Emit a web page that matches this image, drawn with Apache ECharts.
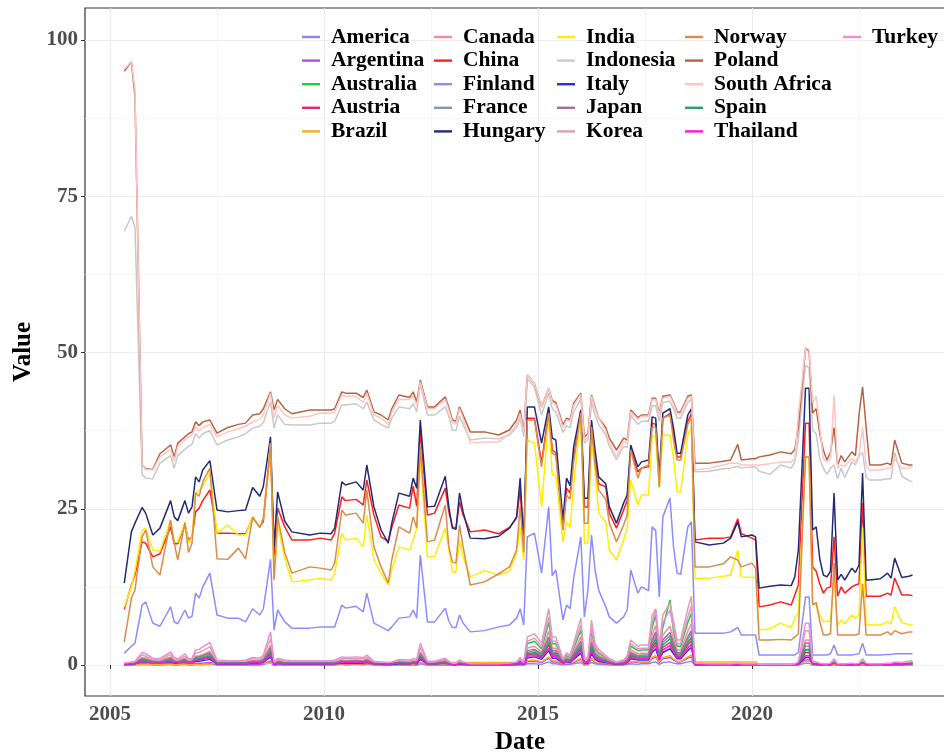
<!DOCTYPE html>
<html>
<head>
<meta charset="utf-8">
<script src="https://cdn.jsdelivr.net/npm/echarts@6/dist/echarts.min.js"></script>
<style>
html, body { margin: 0; padding: 0; background: #ffffff; }
#chart { width: 944px; height: 753px; }
</style>
</head>
<body>
<div id="chart"></div>
<script>
// monthly observation dates (YYYY-MM)
const dates = [
  '2005-05','2005-07','2005-08','2005-10','2005-11','2006-01','2006-03','2006-06','2006-07','2006-08',
  '2006-10','2006-11','2006-12','2007-01','2007-02','2007-03','2007-05','2007-07','2007-10','2008-01',
  '2008-03','2008-05','2008-07','2008-08','2008-10','2008-11','2008-12','2009-02','2009-04','2009-09',
  '2009-12','2010-03','2010-04','2010-06','2010-07','2010-10','2010-12','2011-01','2011-03','2011-05',
  '2011-07','2011-08','2011-10','2012-01','2012-02','2012-03','2012-04','2012-06','2012-08','2012-11',
  '2012-12','2013-01','2013-02','2013-03','2013-04','2013-06','2013-10','2014-02','2014-05','2014-07',
  '2014-08','2014-09','2014-10','2014-12','2015-02','2015-04','2015-05','2015-06','2015-08','2015-09',
  '2015-10','2015-11','2016-01','2016-02','2016-03','2016-04','2016-05','2016-06','2016-08','2016-09',
  '2016-11','2017-01','2017-02','2017-03','2017-05','2017-06','2017-08','2017-09','2017-10','2017-11',
  '2017-12','2018-02','2018-03','2018-04','2018-05','2018-07','2018-08','2018-09','2019-01','2019-05',
  '2019-07','2019-09','2019-10','2020-01','2020-02','2020-03','2020-06','2020-09','2020-12','2021-01',
  '2021-02','2021-04','2021-05','2021-06','2021-07','2021-08','2021-09','2021-10','2021-11','2021-12',
  '2022-01','2022-02','2022-03','2022-05','2022-06','2022-07','2022-08','2022-09','2022-10','2023-01',
  '2023-03','2023-04','2023-05','2023-07','2023-09','2023-10'
]

const america = [
  0,0,0,0.1,0.1,0,0,0.1,0,0, 0.1,0,0,0.1,0.1,0.1,0.2,0,0,0, 0,0,0,0.1,0.3,0,0,0,0,0,
  0,0,0,0.1,0,0.1,0,0.1,0,0, 0,0,0,0,0,0,0.2,0,0,0, 0,0,0,0,0,0,0,0,0,0,
  0,0,0.2,0.2,0.1,0.5,0.2,0.2,0,0.1, 0.1,0.2,0.4,0,0.1,0.4,0.2,0.1,0.1,0, 0,0,0.1,0.2,0.1,0.2,0.2,0.4,0.5,0.1,
  0.4,0.5,0.3,0.2,0.2,0.5,0.6,0,0,0, 0,0,0,0,0,0,0,0,0,0, 0,0.3,0.3,0,0,0,0,0,0,0,
  0,0,0,0,0,0,0,0,0,0, 0,0,0,0,0,0
]
const argentina = [
  0,0.1,0.1,0.2,0.2,0.1,0.1,0.3,0.1,0.1, 0.2,0.1,0.1,0.3,0.3,0.3,0.4,0.1,0.1,0.1,
  0.1,0.1,0.1,0.2,0.6,0,0.1,0.1,0.1,0.1, 0.1,0.1,0.1,0.2,0.1,0.2,0.1,0.2,0.1,0.1,
  0,0.1,0.1,0.1,0.1,0.1,0.4,0.1,0.1,0.1, 0.1,0,0,0.1,0.1,0,0,0,0,0.1,
  0.1,0,0.5,0.6,0.4,1.1,0.5,0.5,0.1,0.2, 0.2,0.4,0.9,0.1,0.1,0.9,0.4,0.3,0.2,0.1,
  0.1,0.1,0.2,0.5,0.4,0.4,0.4,1.0,1.3,0.4, 1.0,1.2,0.8,0.5,0.5,1.1,1.3,0,0,0,
  0,0,0,0,0,0,0,0,0,0, 0.1,0.8,0.8,0.1,0.1,0,0,0,0,0.1,
  0,0,0,0,0,0,0.1,0,0,0, 0,0,0.1,0,0.1,0.1
]
const australia = [
  0.2,0.3,0.3,1.1,1.0,0.6,0.6,1.2,0.7,0.6, 1.0,0.6,0.6,1.3,1.4,1.6,2.0,0.4,0.4,0.4,
  0.4,0.7,0.6,0.9,2.9,0.2,0.6,0.4,0.4,0.4, 0.4,0.4,0.4,0.7,0.7,0.7,0.7,0.9,0.3,0.3,
  0.2,0.3,0.5,0.4,0.6,0.5,1.9,0.3,0.3,0.6, 0.3,0.2,0.2,0.4,0.3,0.1,0.1,0.1,0.2,0.3,
  0.7,0.2,3.4,3.8,2.6,6.8,3.4,3.4,0.8,1.5, 1.2,2.6,5.6,0.8,0.9,5.4,2.6,1.9,1.1,0.8,
  0.4,0.6,1.1,3.0,2.3,2.4,2.4,6.0,8.0,2.3, 6.0,10.4,5.3,3.0,3.0,6.8,8.3,0.1,0.1,0.1,
  0.1,0.1,0.1,0.1,0.1,0.1,0.1,0.1,0.1,0.1, 0.2,2.4,2.4,0.2,0.2,0.1,0.1,0.1,0.1,0.3,
  0.1,0.1,0.1,0.1,0.1,0.1,0.3,0.1,0.1,0.1, 0.1,0.1,0.2,0.1,0.2,0.2
]
const austria = [
  0.1,0.2,0.2,0.7,0.6,0.4,0.4,0.7,0.4,0.4, 0.6,0.4,0.4,0.8,0.9,1.0,1.3,0.3,0.2,0.2,
  0.3,0.4,0.4,0.6,1.9,0.1,0.4,0.3,0.2,0.2, 0.2,0.2,0.3,0.5,0.4,0.5,0.4,0.6,0.2,0.2,
  0.1,0.2,0.3,0.3,0.4,0.3,1.2,0.2,0.2,0.4, 0.2,0.1,0.1,0.3,0.2,0.1,0.1,0.1,0.1,0.2,
  0.4,0.1,1.6,1.8,1.2,3.2,1.6,1.6,0.4,0.7, 0.6,1.2,2.6,0.4,0.4,2.5,1.2,0.9,0.5,0.4,
  0.2,0.3,0.5,1.4,1.1,1.1,1.1,2.8,3.7,1.1, 2.8,3.6,2.5,1.4,1.4,3.2,3.9,0.1,0.1,0.1,
  0.1,0.1,0.1,0.1,0.1,0,0,0,0,0.1, 0.2,2.0,2.0,0.2,0.2,0.1,0.1,0.1,0.1,0.4,
  0.1,0.1,0.1,0.1,0.1,0.1,0.4,0.1,0.1,0.1, 0.1,0.1,0.2,0.1,0.2,0.2
]
const brazil = [
  0.1,0.1,0.1,0.1,0.1,0.1,0.1,0.1,0.1,0.1, 0.1,0.1,0.1,0.1,0.1,0.1,0.1,0.3,0.3,0.3,
  0.3,0.3,0.3,0.3,0.3,0.3,0.3,0.3,0.3,0.3, 0.3,0.2,0.2,0.2,0.2,0.2,0.2,0.2,0.2,0.2,
  0.2,0.2,0.2,0.2,0.2,0.2,0.4,0.2,0.2,0.2, 0.2,0.4,0.4,0.4,0.4,0.4,0.4,0.4,0.4,0.4,
  0.4,0.4,0.7,0.8,0.5,1.3,0.7,0.7,0.2,0.3, 0.3,0.5,1.1,0.2,0.2,1.1,0.5,0.4,0.3,0.2,
  0.2,0.2,0.3,0.6,0.5,0.5,0.5,1.2,1.5,0.5, 1.2,1.5,1.0,0.6,0.6,1.3,1.6,0.5,0.5,0.5,
  0.5,0.5,0.5,0.5,0.5,0.1,0.1,0.1,0.1,0.1, 0.1,0.6,0.6,0.1,0.1,0.1,0.1,0.1,0.1,0.1,
  0.1,0.1,0.1,0.1,0.1,0.1,0.1,0.1,0.1,0.1, 0.1,0.1,0.1,0.1,0.1,0.1
]
const canada = [
  0.2,0.3,0.4,1.2,1.1,0.7,0.6,1.3,0.7,0.6, 1.1,0.6,0.7,1.4,1.5,1.7,2.2,0.5,0.4,0.4,
  0.5,0.7,0.7,1.0,3.2,0.2,0.7,0.5,0.4,0.4, 0.4,0.4,0.5,0.8,0.7,0.8,0.7,1.0,0.4,0.3,
  0.2,0.3,0.5,0.5,0.6,0.5,2.1,0.4,0.4,0.7, 0.4,0.2,0.2,0.5,0.3,0.1,0.1,0.1,0.2,0.3,
  0.7,0.2,2.7,3.0,2.1,5.4,2.7,2.7,0.6,1.2, 1.0,2.1,4.5,0.6,0.7,4.3,2.1,1.5,0.9,0.6,
  0.3,0.5,0.9,2.4,1.8,1.9,1.9,4.8,6.3,1.8, 4.8,6.2,4.2,2.4,2.4,5.4,6.6,0.2,0.1,0.1,
  0.1,0.2,0.1,0.1,0.1,0.1,0.1,0.1,0.1,0.1, 0.3,4.0,4.0,0.4,0.3,0.2,0.1,0.1,0.2,0.6,
  0.1,0.1,0.1,0.2,0.1,0.2,0.6,0.2,0.1,0.1, 0.2,0.2,0.3,0.2,0.4,0.4
]
const china = [
  8.9,12.8,14.4,19.7,19.5,17.3,17.8,22.1,19.4,19.4, 22.4,20.0,20.5,24.5,25.1,26.3,28.0,21.1,21.1,21.0,
  21.0,23.5,22.1,23.0,34.9,17.5,25.1,22.1,20.0,20.0, 20.3,20.0,21.1,26.9,26.3,26.5,25.6,29.6,24.0,20.5,
  19.8,22.0,25.6,25.1,28.6,25.4,37.6,24.0,24.3,28.3, 24.5,22.1,21.9,26.1,24.0,21.3,21.6,21.0,22.0,23.5,
  28.0,19.5,39.5,39.5,32.3,40.7,34.4,34.0,21.6,28.3, 27.5,33.3,40.3,25.3,25.3,38.4,33.0,29.0,28.5,24.3,
  21.9,24.8,26.3,34.6,30.9,31.5,31.7,38.7,38.5,29.0, 39.5,40.2,37.0,33.3,33.3,39.0,40.2,20.0,20.3,20.3,
  20.5,23.4,21.0,20.3,20.0,9.3,9.6,10.1,9.6,11.2, 12.8,38.7,38.7,15.7,15.0,13.0,11.5,12.3,12.5,20.5,
  11.0,12.5,11.5,12.5,12.8,13.0,25.9,11.0,11.0,11.0, 11.5,11.2,13.9,11.2,11.2,11.1
]
const finland = [
  1.9,3.0,3.5,9.6,10.1,6.7,6.2,9.3,6.9,6.6, 8.8,7.5,7.8,11.5,10.7,12.5,14.7,8.0,7.5,7.5,
  6.9,9.0,8.0,9.0,16.9,5.6,8.8,6.9,5.9,5.9, 6.1,6.1,6.1,9.6,9.1,9.4,8.5,11.5,6.7,6.1,
  5.5,6.1,7.5,7.7,8.8,7.5,17.6,6.9,6.9,9.1, 7.0,6.0,6.0,8.0,6.7,5.3,5.5,6.1,6.4,7.5,
  9.0,6.4,20.5,21.1,14.7,25.3,14.3,15.2,7.2,9.6, 9.0,13.9,20.5,7.7,12.0,20.8,15.2,12.0,9.3,7.7,
  6.7,7.7,8.8,15.2,11.5,12.5,11.9,22.1,21.5,10.9, 23.7,26.7,18.9,14.7,14.5,22.1,22.9,5.1,5.1,5.1,
  5.3,6.0,4.8,4.8,4.8,1.6,1.6,1.6,1.6,1.6, 2.0,10.9,10.9,1.6,1.6,1.6,1.6,1.6,1.8,3.2,
  1.6,1.6,1.6,1.6,1.7,1.8,3.5,1.6,1.6,1.6, 1.7,1.7,1.8,1.8,1.8,1.8
]
const france = [
  0.1,0.2,0.3,0.9,0.8,0.5,0.5,0.9,0.5,0.5, 0.8,0.5,0.5,1.1,1.1,1.3,1.6,0.4,0.3,0.3,
  0.4,0.5,0.5,0.7,2.4,0.2,0.5,0.4,0.3,0.3, 0.3,0.3,0.4,0.6,0.5,0.6,0.5,0.7,0.3,0.2,
  0.2,0.2,0.4,0.4,0.5,0.4,1.6,0.3,0.3,0.5, 0.3,0.1,0.1,0.4,0.2,0.1,0.1,0.1,0.1,0.2,
  0.5,0.2,2.0,2.3,1.6,4.1,2.0,2.0,0.5,0.9, 0.7,1.6,3.4,0.5,0.5,3.2,1.6,1.1,0.7,0.5,
  0.2,0.4,0.7,1.8,1.4,1.4,1.4,3.6,4.7,1.4, 3.6,4.7,3.2,1.8,1.8,4.1,5.0,0.1,0.1,0.1,
  0.1,0.1,0.1,0.1,0.1,0,0,0,0,0.1, 0.2,3.0,3.0,0.3,0.2,0.1,0.1,0.1,0.1,0.5,
  0.1,0.1,0.1,0.1,0.1,0.1,0.5,0.1,0.1,0.1, 0.1,0.1,0.2,0.2,0.3,0.3
]
const hungary = [
  13.1,21.3,22.7,25.2,24.3,20.8,21.9,26.3,23.7,23.1, 26.3,24.3,25.3,30.1,29.3,31.2,32.7,24.8,24.5,24.7,
  24.8,28.4,27.0,28.6,36.5,18.9,27.7,23.0,21.3,20.8, 21.1,21.0,21.9,29.3,28.8,29.3,28.0,32.0,25.3,21.6,
  19.5,22.7,27.5,27.0,29.9,28.3,39.2,25.3,25.4,30.2, 25.3,21.9,21.7,27.5,24.5,20.3,20.2,20.6,21.9,23.7,
  29.9,19.5,41.3,41.3,35.5,41.3,36.3,36.0,23.2,29.9, 28.7,34.9,40.8,26.7,26.7,39.2,34.4,30.1,29.0,25.3,
  22.7,25.9,27.2,35.2,31.7,32.5,32.8,39.7,39.5,30.1, 40.3,41.0,37.9,33.9,33.9,40.0,41.0,19.7,19.2,19.5,
  20.3,22.9,20.5,20.8,20.5,12.3,12.6,12.8,12.7,14.1, 18.4,44.3,44.3,21.6,22.1,17.0,14.4,14.1,15.0,27.5,
  13.6,14.5,13.6,15.5,14.8,16.0,30.7,13.6,13.6,13.8, 14.7,13.9,17.1,14.0,14.2,14.4
]
const india = [
  9.3,12.5,15.0,21.6,21.9,18.4,18.2,23.2,19.7,19.7, 22.8,19.5,20.5,27.5,28.0,28.6,30.7,21.1,22.4,20.8,
  20.8,23.7,22.0,23.5,35.5,13.6,22.5,17.0,13.3,13.6, 13.9,13.6,14.7,21.1,20.0,20.3,18.9,24.0,16.8,14.7,
  12.8,15.2,18.9,18.4,20.0,21.9,33.3,17.3,17.4,21.9, 18.5,14.9,14.9,20.0,17.3,14.1,15.1,14.4,15.0,17.9,
  22.1,16.8,36.0,35.5,25.3,39.7,30.4,30.4,19.7,22.9, 22.0,28.8,39.7,19.5,19.5,36.0,31.2,24.3,22.9,18.4,
  16.8,20.0,21.9,29.6,25.6,27.2,27.2,36.8,36.5,28.3, 36.8,36.8,33.0,27.7,27.7,36.8,38.1,13.9,13.9,14.2,
  14.4,18.4,14.1,14.0,14.0,5.6,5.8,6.7,6.0,7.5, 8.3,33.3,33.3,9.9,9.5,8.0,6.9,7.0,7.0,14.1,
  6.4,7.2,6.6,8.0,7.5,8.0,22.0,6.4,6.4,6.4, 6.9,6.6,9.3,6.8,6.5,6.4
]
const indonesia = [
  69.4,71.8,70.0,30.5,29.9,29.8,32.3,33.5,31.5,33.5, 34.5,35.0,35.3,37.0,36.3,37.0,37.5,35.2,36.0,36.5,
  37.0,37.9,38.2,38.8,42.1,37.9,40.0,38.5,38.4,38.4, 38.7,38.7,39.0,41.6,41.6,41.8,41.0,42.1,39.2,38.5,
  37.9,39.5,41.3,41.0,41.8,40.5,45.0,40.0,40.0,41.3, 39.8,37.6,37.5,39.8,38.5,36.0,36.3,36.2,36.8,38.0,
  39.5,36.5,45.8,44.5,40.0,43.5,41.0,40.5,37.2,38.3, 38.0,40.5,42.5,35.5,36.0,42.0,40.0,38.5,36.8,35.0,
  32.8,35.0,34.8,40.0,38.5,39.0,39.0,41.5,41.5,39.0, 42.0,42.2,41.0,39.5,39.5,42.0,42.5,30.9,31.0,31.4,
  31.5,31.8,31.5,31.7,31.7,31.0,30.5,32.0,31.5,32.5, 36.0,48.0,47.5,37.6,37.0,33.0,31.5,30.5,31.5,32.0,
  29.8,31.5,30.0,32.5,32.0,33.5,34.0,30.0,29.6,29.6, 29.8,29.8,34.0,30.2,29.5,29.3
]
const italy = [
  0.1,0.1,0.2,0.5,0.5,0.3,0.3,0.5,0.3,0.3, 0.5,0.3,0.3,0.6,0.6,0.7,0.9,0.2,0.2,0.2,
  0.2,0.3,0.3,0.4,1.3,0.1,0.3,0.2,0.2,0.2, 0.2,0.2,0.2,0.3,0.3,0.3,0.3,0.4,0.2,0.1,
  0.1,0.1,0.2,0.2,0.3,0.2,0.9,0.2,0.2,0.3, 0.2,0.1,0.1,0.2,0.1,0.1,0.1,0.1,0.1,0.1,
  0.3,0.1,1.1,1.3,0.9,2.3,1.1,1.1,0.3,0.5, 0.4,0.9,1.9,0.3,0.3,1.8,0.9,0.6,0.4,0.3,
  0.1,0.2,0.4,1.0,0.8,0.8,0.8,2.0,2.6,0.8, 2.0,2.6,1.8,1.0,1.0,2.3,2.8,0.1,0.1,0.1,
  0.1,0.1,0.1,0.1,0.1,0,0,0,0,0.1, 0.1,1.2,1.2,0.2,0.1,0.1,0.1,0.1,0.1,0.3,
  0.1,0.1,0.1,0.1,0.1,0.1,0.3,0.1,0.1,0.1, 0.1,0.1,0.1,0.1,0.2,0.2
]
const japan = [
  0.2,0.3,0.3,1.0,0.9,0.6,0.5,1.1,0.6,0.5, 0.9,0.5,0.6,1.2,1.3,1.5,1.8,0.4,0.4,0.4,
  0.4,0.6,0.6,0.8,2.7,0.2,0.6,0.4,0.4,0.4, 0.4,0.4,0.4,0.7,0.6,0.7,0.6,0.8,0.3,0.3,
  0.2,0.3,0.5,0.4,0.5,0.5,1.8,0.3,0.3,0.6, 0.3,0.2,0.2,0.4,0.3,0.1,0.1,0.1,0.2,0.3,
  0.6,0.2,2.3,2.5,1.8,4.5,2.3,2.3,0.5,1.0, 0.8,1.8,3.8,0.5,0.6,3.6,1.8,1.3,0.8,0.5,
  0.3,0.4,0.8,2.0,1.5,1.6,1.6,4.0,5.3,1.5, 4.0,5.2,3.5,2.0,2.0,4.5,5.5,0.2,0.1,0.1,
  0.1,0.2,0.1,0.1,0.1,0.1,0.1,0.1,0.1,0.1, 0.3,3.5,3.5,0.3,0.3,0.2,0.1,0.1,0.2,0.5,
  0.1,0.1,0.1,0.2,0.1,0.2,0.5,0.2,0.1,0.1, 0.2,0.2,0.3,0.2,0.3,0.4
]
const korea = [
  0.2,0.4,0.5,1.6,1.4,0.9,0.8,1.7,1.0,0.8, 1.4,0.8,0.9,1.9,2.0,2.3,2.9,0.6,0.6,0.6,
  0.6,1.0,0.9,1.3,4.2,0.3,0.9,0.6,0.6,0.6, 0.6,0.6,0.6,1.0,1.0,1.0,1.0,1.3,0.5,0.4,
  0.3,0.4,0.7,0.6,0.8,0.7,2.8,0.5,0.5,0.9, 0.5,0.2,0.2,0.6,0.4,0.2,0.2,0.2,0.2,0.4,
  1.0,0.3,4.5,5.0,3.5,9.0,4.5,4.5,1.0,2.0, 1.6,3.5,7.5,1.0,1.2,7.2,3.5,2.5,1.5,1.0,
  0.5,0.8,1.5,4.0,3.0,3.2,3.2,8.0,9.0,3.0, 8.0,9.9,7.0,4.0,4.0,9.0,11.0,0.2,0.1,0.1,
  0.1,0.2,0.1,0.1,0.1,0.1,0.1,0.1,0.1,0.1, 0.4,5.5,5.5,0.4,0.4,0.2,0.1,0.1,0.2,0.7,
  0.1,0.1,0.1,0.2,0.1,0.2,0.7,0.2,0.1,0.1, 0.2,0.2,0.4,0.3,0.4,0.5
]
const norway = [
  3.7,10.7,12.0,20.5,21.6,15.7,14.4,23.2,19.5,16.8, 22.8,18.0,19.5,27.5,27.0,29.3,31.5,17.0,16.9,18.7,
  17.0,23.7,22.0,23.5,35.5,13.6,23.7,18.0,14.7,15.7, 15.5,15.2,16.3,24.8,24.0,24.3,22.7,28.0,18.9,15.7,
  13.1,16.8,22.1,21.1,23.7,21.9,34.9,19.7,20.0,25.6, 18.9,16.5,16.3,22.4,18.9,12.8,13.3,14.6,15.7,18.4,
  25.3,18.0,39.2,39.2,31.7,40.3,33.9,33.5,21.6,27.2, 26.5,32.5,40.3,22.7,22.7,38.1,32.0,28.0,26.5,22.7,
  19.7,22.4,24.0,34.4,29.9,31.5,32.0,38.1,38.0,28.5, 39.5,40.0,36.0,32.8,32.8,38.5,39.8,15.7,15.7,16.2,
  17.3,16.8,15.7,16.3,15.5,4.0,4.0,4.1,4.0,4.5, 5.0,33.3,33.3,9.6,10.0,7.0,4.8,4.8,5.0,16.3,
  4.8,4.8,4.8,4.8,4.8,5.0,13.0,4.8,4.8,4.8, 5.3,4.8,5.5,5.0,5.3,5.3
]
const poland = [
  95.0,96.5,91.0,32.0,31.4,31.3,33.8,35.2,33.3,35.5, 36.5,37.0,37.3,38.9,38.3,38.9,39.2,37.1,38.0,38.5,
  38.7,40.0,40.2,41.0,43.7,40.8,42.5,41.0,40.2,40.8, 40.8,40.8,41.0,43.7,43.5,43.5,42.8,44.0,40.5,40.0,
  39.2,41.0,43.2,42.8,43.7,42.1,45.6,41.3,41.3,42.9, 41.2,39.2,39.0,41.3,40.0,37.3,37.3,36.8,37.6,39.2,
  40.8,37.3,46.4,45.0,41.3,44.3,42.3,42.0,38.4,39.5, 39.2,41.9,43.5,36.5,37.0,43.2,41.3,39.5,38.0,36.3,
  34.4,36.3,36.0,40.8,39.6,40.0,40.0,42.7,42.7,40.3, 43.0,43.2,42.0,40.5,40.5,43.0,43.2,32.3,32.3,32.6,
  32.8,35.3,32.8,33.0,33.0,33.3,33.6,34.1,33.8,34.5, 38.1,50.7,50.2,40.3,41.0,37.0,34.4,32.8,34.0,38.0,
  32.0,33.5,32.5,34.1,33.5,40.0,44.5,38.0,32.0,32.0, 32.3,32.0,36.0,32.3,32.0,32.0
]
const southAfrica = [
  95.3,96.6,92.0,32.0,31.3,31.2,33.3,34.5,32.6,35.0, 36.0,36.5,36.8,38.1,37.5,38.0,38.5,36.5,37.3,37.8,
  38.2,38.9,39.3,40.0,43.5,39.5,41.5,40.0,39.5,39.8, 40.3,40.3,40.5,43.2,43.0,43.0,42.0,43.5,40.0,39.5,
  38.5,40.5,42.5,42.5,43.0,41.5,45.3,41.0,41.0,42.5, 40.8,38.8,38.6,41.0,39.5,35.5,35.7,35.7,37.0,38.5,
  40.2,37.0,46.4,45.0,41.3,44.3,42.0,41.7,38.0,39.2, 39.0,41.5,43.3,36.0,36.5,43.0,41.0,39.5,37.5,35.5,
  33.3,35.8,35.5,40.5,39.3,39.8,39.8,42.5,42.5,40.0, 42.7,43.0,41.8,40.2,40.2,42.7,43.0,31.2,31.5,32.0,
  32.3,32.3,32.0,32.0,32.0,32.0,32.2,32.5,32.5,33.0, 40.0,50.7,50.5,42.0,43.0,38.0,33.0,32.5,33.0,43.2,
  31.5,32.0,31.8,33.0,32.5,33.5,38.0,32.0,31.2,31.2, 31.5,31.5,33.0,31.5,31.5,31.8
]
const spain = [
  0.1,0.2,0.2,0.8,0.7,0.4,0.4,0.8,0.5,0.4, 0.7,0.4,0.4,1.0,1.0,1.2,1.4,0.3,0.3,0.3,
  0.3,0.5,0.4,0.6,2.1,0.2,0.4,0.3,0.3,0.3, 0.3,0.3,0.3,0.5,0.5,0.5,0.5,0.6,0.2,0.2,
  0.2,0.2,0.4,0.3,0.4,0.4,1.4,0.2,0.2,0.4, 0.2,0.1,0.1,0.3,0.2,0.1,0.1,0.1,0.1,0.2,
  0.5,0.2,1.8,2.0,1.4,3.6,1.8,1.8,0.4,0.8, 0.6,1.4,3.0,0.4,0.5,2.9,1.4,1.0,0.6,0.4,
  0.2,0.3,0.6,1.6,1.2,1.3,1.3,3.2,4.2,1.2, 3.2,4.2,2.8,1.6,1.6,3.6,4.4,0.1,0.1,0.1,
  0.1,0.1,0.1,0.1,0.1,0,0,0,0,0.1, 0.2,2.5,2.5,0.2,0.2,0.1,0.1,0.1,0.1,0.4,
  0.1,0.1,0.1,0.1,0.1,0.1,0.4,0.1,0.1,0.1, 0.1,0.1,0.2,0.2,0.2,0.3
]
const thailand = [
  0.1,0.2,0.2,0.6,0.5,0.3,0.3,0.6,0.4,0.3, 0.5,0.3,0.3,0.7,0.8,0.9,1.1,0.2,0.2,0.2,
  0.2,0.4,0.3,0.5,1.6,0.1,0.3,0.2,0.2,0.2, 0.2,0.2,0.2,0.4,0.4,0.4,0.4,0.5,0.2,0.2,
  0.1,0.2,0.3,0.2,0.3,0.3,1.1,0.2,0.2,0.3, 0.2,0.1,0.1,0.2,0.2,0.1,0.1,0.1,0.1,0.2,
  0.4,0.1,1.4,1.5,1.1,2.7,1.4,1.4,0.3,0.6, 0.5,1.1,2.3,0.3,0.4,2.2,1.1,0.8,0.5,0.3,
  0.2,0.2,0.5,1.2,0.9,1.0,1.0,2.4,3.2,0.9, 2.4,3.1,2.1,1.2,1.2,2.7,3.3,0.1,0.1,0.1,
  0.1,0.1,0.1,0.1,0.1,0,0,0,0,0.1, 0.2,1.5,1.5,0.2,0.2,0.1,0.1,0.1,0.1,0.3,
  0.1,0.1,0.1,0.1,0.1,0.1,0.3,0.1,0.1,0.1, 0.1,0.1,0.2,0.1,0.2,0.2
]
const turkey = [
  0.3,0.5,0.6,2.0,1.8,1.1,1.0,2.1,1.2,1.0, 1.8,1.0,1.1,2.4,2.5,2.9,3.6,0.8,0.7,0.7,
  0.8,1.2,1.1,1.6,5.3,0.4,1.1,0.8,0.7,0.7, 0.7,0.7,0.8,1.3,1.2,1.3,1.2,1.6,0.6,0.5,
  0.4,0.5,0.9,0.8,1.0,0.9,3.5,0.6,0.6,1.1, 0.6,0.3,0.3,0.8,0.5,0.2,0.2,0.2,0.3,0.5,
  1.2,0.4,3.8,4.3,3.0,7.7,3.8,3.8,0.9,1.7, 1.4,3.0,6.4,0.9,1.0,6.1,3.0,2.1,1.3,0.9,
  0.4,0.7,1.3,3.4,2.6,2.7,2.7,6.8,8.9,2.6, 6.8,8.8,6.0,3.4,3.4,7.7,9.4,0.3,0.2,0.2,
  0.2,0.3,0.2,0.2,0.2,0.1,0.1,0.1,0.1,0.2, 0.5,6.7,6.7,0.6,0.5,0.3,0.2,0.2,0.3,1.0,
  0.2,0.2,0.2,0.3,0.2,0.3,1.0,0.3,0.2,0.2, 0.3,0.3,0.5,0.4,0.6,0.7
]

// tick labels
const xTicks = [2005, 2010, 2015, 2020]
const xMinorTicks = [2007.5, 2012.5, 2017.5, 2022.5]
const yTicks = [0, 25, 50, 75, 100]
const yMinorTicks = [12.5, 37.5, 62.5, 87.5]

const countries = [
  ['America', america, '#8e86ec'],
  ['Argentina', argentina, '#b54ce6'],
  ['Australia', australia, '#1fcc3a'],
  ['Austria', austria, '#e3267a'],
  ['Brazil', brazil, '#ffab1a'],
  ['Canada', canada, '#f28b9a'],
  ['China', china, '#ff1f1f'],
  ['Finland', finland, '#8c8cff'],
  ['France', france, '#8797ab'],
  ['Hungary', hungary, '#232a7a'],
  ['India', india, '#ffee00'],
  ['Indonesia', indonesia, '#c8c8c8'],
  ['Italy', italy, '#2a2ee6'],
  ['Japan', japan, '#a0709c'],
  ['Korea', korea, '#d9a3ac'],
  ['Norway', norway, '#d98c4c'],
  ['Poland', poland, '#b5643f'],
  ['South Africa', southAfrica, '#ffc4c4'],
  ['Spain', spain, '#2e9e62'],
  ['Thailand', thailand, '#ff14d8'],
  ['Turkey', turkey, '#eb8edb']
]

const legendColumns = [
  ['America', 'Argentina', 'Australia', 'Austria', 'Brazil'],
  ['Canada', 'China', 'Finland', 'France', 'Hungary'],
  ['India', 'Indonesia', 'Italy', 'Japan', 'Korea'],
  ['Norway', 'Poland', 'South Africa', 'Spain', 'Thailand'],
  ['Turkey']
]
const legendLefts = [302, 434, 557, 685, 843]

function toYear(d){
    const parts = d.split('-')
    return Number(parts[0]) + (Number(parts[1]) - 1) / 12
}

const FONT = "'Liberation Serif', 'DejaVu Serif', serif"
const gridLeft = 85, gridTop = 8, gridWidth = 870, gridHeight = 688
const pxPerYear = 42.8, pxPerUnit = 6.25
const xMin = 2005 - (110 - gridLeft) / pxPerYear
const xMax = xMin + gridWidth / pxPerYear
const yMin = -(gridTop + gridHeight - 665) / pxPerUnit
const yMax = (665 - gridTop) / pxPerUnit

const series = countries.map(function(c){
    return {
        name: c[0],
        type: 'line',
        symbol: 'none',
        showSymbol: false,
        xAxisIndex: 0,
        yAxisIndex: 0,
        lineStyle: { color: c[2], width: 1.5 },
        itemStyle: { color: c[2] },
        data: dates.map(function(d, i){ return [toYear(d), c[1][i]] })
    }
})

const legends = legendColumns.map(function(col, i){
    return {
        orient: 'vertical',
        left: legendLefts[i],
        top: 26,
        padding: 0,
        itemGap: 1.6,
        itemWidth: 18,
        itemHeight: 2.4,
        icon: 'rect',
        selectedMode: false,
        data: col,
        textStyle: {
            fontFamily: FONT,
            fontWeight: 'bold',
            fontSize: 21.5,
            lineHeight: 20,
            color: '#000000',
            padding: [0, 0, 0, 6]
        }
    }
})

const axisLabelStyle = {
    fontFamily: FONT,
    fontWeight: 'bold',
    fontSize: 21,
    color: '#4d4d4d'
}

const options = {
    backgroundColor: '#ffffff',
    animation: false,
    legend: legends,
    grid: {
        left: gridLeft, top: gridTop, width: gridWidth, height: gridHeight,
        containLabel: false, outerBoundsMode: 'none',
        show: true, borderColor: '#333333', borderWidth: 1.2,
        backgroundColor: 'transparent'
    },
    xAxis: [{
        type: 'value', min: xMin, max: xMax,
        name: 'Date', nameLocation: 'middle', nameGap: 23,
        nameTextStyle: { fontFamily: FONT, fontWeight: 'bold', fontSize: 25, color: '#000000' },
        axisLine: { show: false },
        axisTick: { show: true, customValues: xTicks, length: 4, lineStyle: { color: '#333333', width: 1 } },
        axisLabel: Object.assign({ customValues: xTicks, margin: 8, formatter: function(v){ return String(Math.round(v)) } }, axisLabelStyle),
        splitLine: { show: true, lineStyle: { color: '#ebebeb', width: 1.2 } }
    }, {
        type: 'value', min: xMin, max: xMax, gridIndex: 0, position: 'bottom',
        axisLine: { show: false },
        axisTick: { show: false, customValues: xMinorTicks },
        axisLabel: { show: false, customValues: xMinorTicks },
        splitLine: { show: true, lineStyle: { color: '#f2f2f2', width: 0.7 } }
    }],
    yAxis: [{
        type: 'value', min: yMin, max: yMax,
        name: 'Value', nameLocation: 'middle', nameGap: 44, nameRotate: 90,
        nameTextStyle: { fontFamily: FONT, fontWeight: 'bold', fontSize: 25, color: '#000000' },
        axisLine: { show: false },
        axisTick: { show: true, customValues: yTicks, length: 4, lineStyle: { color: '#333333', width: 1 } },
        axisLabel: Object.assign({ customValues: yTicks, margin: 7 }, axisLabelStyle),
        splitLine: { show: true, lineStyle: { color: '#ebebeb', width: 1.2 } }
    }, {
        type: 'value', min: yMin, max: yMax, gridIndex: 0, position: 'left',
        axisLine: { show: false },
        axisTick: { show: false, customValues: yMinorTicks },
        axisLabel: { show: false, customValues: yMinorTicks },
        splitLine: { show: true, lineStyle: { color: '#f2f2f2', width: 0.7 } }
    }],
    series: series
}

const chart = echarts.init(document.getElementById('chart'))
chart.setOption(options)
</script>
</body>
</html>
